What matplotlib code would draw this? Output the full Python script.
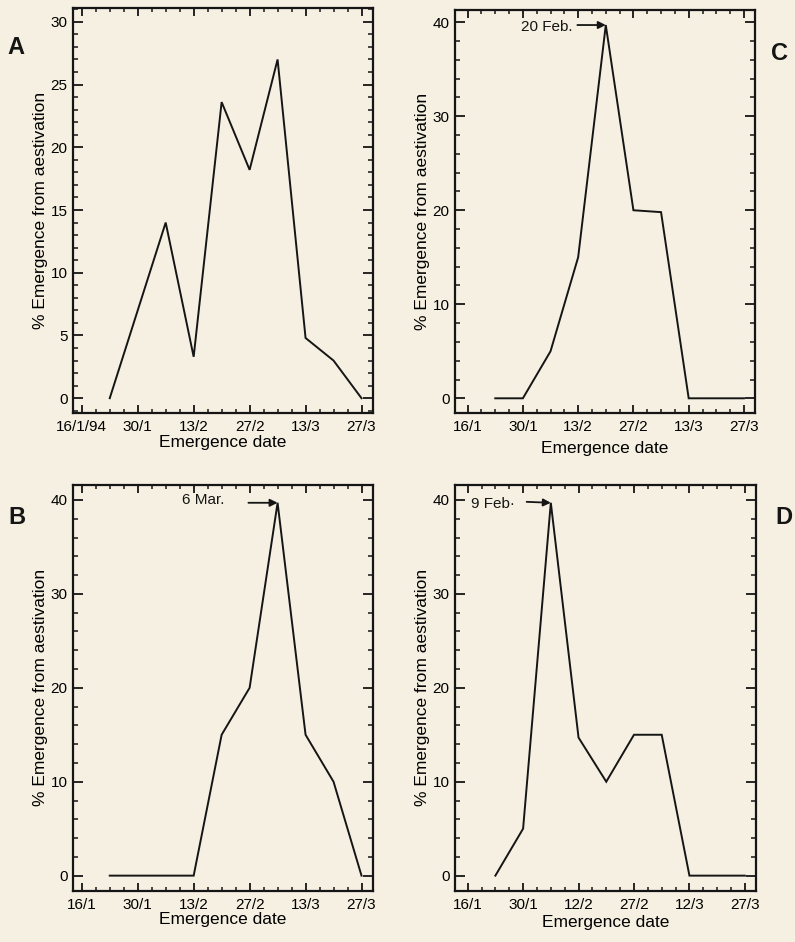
import numpy as np
import matplotlib
matplotlib.use('Agg')
import matplotlib.pyplot as plt
from matplotlib.ticker import MultipleLocator, FixedLocator

#-------------------------------------------------------------------
# data: days after 16 January, % emergence from aestivation
days_a = [7, 21, 28, 35, 42, 49, 56, 63, 70]
pct_a = [0, 14, 3.3, 23.6, 18.2, 27, 4.8, 3, 0]

days_b = [7, 14, 21, 28, 35, 42, 49, 56, 63, 70]
pct_b = [0, 0, 0, 0, 15, 20, 39.7, 15, 10, 0]

days_c = [7, 14, 21, 28, 35, 42, 49, 56, 63, 70]
pct_c = [0, 0, 5, 15, 39.7, 20, 19.8, 0, 0, 0]

days_d = [7, 14, 21, 28, 35, 42, 49, 56, 63, 70]
pct_d = [0, 5, 39.7, 14.7, 10, 15, 15, 0, 0, 0]

tick_days = [0, 14, 28, 42, 56, 70]
ticks_a = ['16/1/94', '30/1', '13/2', '27/2', '13/3', '27/3']
ticks_b = ['16/1', '30/1', '13/2', '27/2', '13/3', '27/3']
ticks_c = ['16/1', '30/1', '13/2', '27/2', '13/3', '27/3']
ticks_d = ['16/1', '30/1', '12/2', '27/2', '12/3', '27/3']

BG = '#f5f0e1'
INK = '#151515'

plt.rcParams['font.family'] = ['Liberation Sans', 'DejaVu Sans']


#-------------------------------------------------------------------
def draw_panel(fig, rect, days, pct, labels, xlim, ylim, ymajor, yminor, xlab_y=-0.053):
    '''
    One emergence curve in its own boxed axes with inward ticks on all four sides
    '''
    ax = fig.add_axes(rect)
    ax.set_facecolor(BG)
    ax.plot(days, pct, color=INK, lw=1.4, solid_joinstyle='miter')

    ax.set_xlim(*xlim)
    ax.set_ylim(*ylim)
    ax.xaxis.set_major_locator(FixedLocator(tick_days))
    ax.xaxis.set_minor_locator(MultipleLocator(3.5))
    ax.set_xticklabels(labels)
    ax.yaxis.set_major_locator(MultipleLocator(ymajor))
    ax.yaxis.set_minor_locator(MultipleLocator(yminor))

    for s in ax.spines.values():
        s.set_linewidth(1.6)
        s.set_color(INK)

    ax.tick_params(axis='both', which='both', direction='in', top=True, right=True, color=INK)
    ax.tick_params(axis='x', which='major', length=6, width=1.3, labelsize=11, pad=5)
    ax.tick_params(axis='x', which='minor', length=3, width=1.1)
    ax.tick_params(axis='y', which='major', length=7, width=1.3, labelsize=11, pad=4)
    ax.tick_params(axis='y', which='minor', length=3.5, width=1.1)

    ax.set_xlabel('Emergence date', fontsize=12.5)
    ax.set_ylabel('% Emergence from aestivation', fontsize=12.5)
    ax.xaxis.set_label_coords(0.5, xlab_y)
    ax.yaxis.set_label_coords(-0.082, 0.5)
    return ax

#-------------------------------------------------------------------
def mark_peak(ax, text, text_xy, ha, arrow_from, arrow_to):
    ax.text(text_xy[0], text_xy[1], text, ha=ha, va='center', fontsize=11, color=INK)
    ax.annotate('', xy=arrow_to, xytext=arrow_from,
                arrowprops=dict(arrowstyle='-|>', color=INK, lw=1.3,
                                mutation_scale=11, shrinkA=0, shrinkB=0))

#-------------------------------------------------------------------
fig = plt.figure(figsize=(7.95, 9.42), dpi=100)
fig.patch.set_facecolor(BG)

ax_a = draw_panel(fig, [0.0918, 0.5613, 0.377, 0.4302], days_a, pct_a, ticks_a,
                  (-2.2, 72.8), (-1.2, 31.1), 5, 1)
ax_c = draw_panel(fig, [0.5723, 0.5616, 0.3774, 0.4278], days_c, pct_c, ticks_c,
                  (-3.2, 72.8), (-1.56, 41.3), 10, 2, xlab_y=-0.07)
ax_b = draw_panel(fig, [0.0918, 0.0545, 0.377, 0.4307], days_b, pct_b, ticks_b,
                  (-2.2, 72.8), (-1.6, 41.6), 10, 2)
ax_d = draw_panel(fig, [0.5723, 0.0545, 0.3786, 0.4307], days_d, pct_d, ticks_d,
                  (-3.2, 72.8), (-1.6, 41.6), 10, 2, xlab_y=-0.06)

mark_peak(ax_c, '20 Feb.', (26.6, 39.5), 'right', (27.8, 39.7), (35, 39.7))
mark_peak(ax_b, '6 Mar.', (25.1, 40.0), 'left', (41.7, 39.7), (49, 39.7))
mark_peak(ax_d, '9 Feb\u00b7', (0.9, 39.6), 'left', (14.9, 39.8), (21, 39.7))

# panel letters
for letter, x, y in [('A', 16, 48), ('C', 779, 53), ('B', 17, 517), ('D', 784, 517)]:
    fig.text(x / 795, 1 - y / 942, letter, ha='center', va='center',
             fontsize=17, fontweight='bold', color=INK)

fig.savefig('out.png', dpi=100, facecolor=BG)
